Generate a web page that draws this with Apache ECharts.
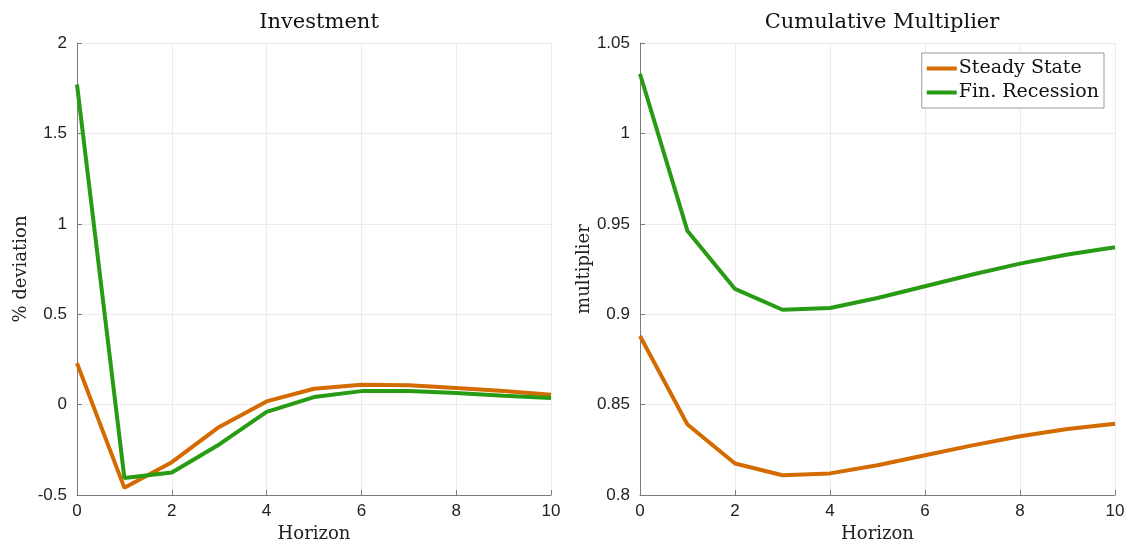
<!DOCTYPE html>
<html>
<head>
<meta charset="utf-8">
<script src="https://cdn.jsdelivr.net/npm/echarts@6/dist/echarts.min.js"></script>
<style>
  html, body { margin: 0; padding: 0; background: #fff; }
  #chart { width: 1128px; height: 548px; }
</style>
</head>
<body>
<div id="chart"></div>
<script>
// 横轴（期数）
const horizon = [0, 1, 2, 3, 4, 5, 6, 7, 8, 9, 10];

// 左图：投资（% 偏离）
const invSteady = [0.23, -0.46, -0.318, -0.123, 0.018, 0.088, 0.11, 0.107, 0.092, 0.075, 0.055];
const invRecession = [1.77, -0.405, -0.375, -0.22, -0.04, 0.042, 0.075, 0.075, 0.065, 0.05, 0.037];

// 右图：累积乘数
const mulSteady = [0.888, 0.839, 0.8175, 0.811, 0.812, 0.8165, 0.822, 0.8275, 0.8325, 0.8365, 0.8395];
const mulRecession = [1.033, 0.946, 0.914, 0.9025, 0.9035, 0.909, 0.9155, 0.922, 0.928, 0.933, 0.937];

const ORANGE = "#d36b00";
const GREEN = "#289b14";
const AXIS = "#7a7a7a";
const GRID = "#ebebeb";
const SERIF = "'DejaVu Serif', 'Liberation Serif', serif";
const SANS = "'Liberation Sans', Arial, sans-serif";

const pairs = (ys) => horizon.map((x, i) => [x, ys[i]]);

const xAxisFor = (idx) => ({
  type: "value",
  gridIndex: idx,
  min: 0,
  max: 10,
  interval: 2,
  name: "Horizon",
  nameLocation: "middle",
  nameGap: 29,
  nameTextStyle: { fontFamily: SERIF, fontSize: 18, color: "#222" },
  axisLine: { show: true, onZero: false, lineStyle: { color: AXIS } },
  axisTick: { show: true, inside: true, length: 5, lineStyle: { color: AXIS } },
  axisLabel: { fontFamily: SANS, fontSize: 17, color: "#222", margin: 8 },
  splitLine: { show: true, lineStyle: { color: GRID } },
});

const yAxisFor = (idx, min, max, interval, name) => ({
  type: "value",
  gridIndex: idx,
  min,
  max,
  interval,
  name,
  nameLocation: "middle",
  nameGap: 47,
  nameRotate: 90,
  nameTextStyle: { fontFamily: SERIF, fontSize: 18, color: "#222" },
  axisLine: { show: true, onZero: false, lineStyle: { color: AXIS } },
  axisTick: { show: true, inside: true, length: 5, lineStyle: { color: AXIS } },
  axisLabel: {
    fontFamily: SANS, fontSize: 17, color: "#222", margin: 10,
    formatter: (v) => String(Number(v.toFixed(2))),
  },
  splitLine: { show: true, lineStyle: { color: GRID } },
});

const lineSeries = (name, data, color, axisIdx) => ({
  name,
  type: "line",
  xAxisIndex: axisIdx,
  yAxisIndex: axisIdx,
  data: pairs(data),
  symbol: "none",
  lineStyle: { color, width: 4 },
  itemStyle: { color },
  animation: false,
});

const titleStyle = { fontFamily: SERIF, fontSize: 21, fontWeight: "normal", color: "#111" };

const chart = echarts.init(document.getElementById("chart"), null, { renderer: "canvas" });
chart.setOption({
  backgroundColor: "#fff",
  animation: false,
  title: [
    { text: "Investment", left: 314, top: 7, textAlign: "center", textStyle: titleStyle },
    { text: "Cumulative Multiplier", left: 877, top: 7, textAlign: "center", textStyle: titleStyle },
  ],
  legend: {
    data: ["Steady State", "Fin. Recession"],
    orient: "vertical",
    right: 24,
    top: 53,
    itemWidth: 30,
    itemHeight: 4,
    itemGap: 5,
    padding: [6, 5, 6, 5],
    borderColor: "#999",
    borderWidth: 1,
    backgroundColor: "#fff",
    icon: "rect",
    textStyle: { fontFamily: SERIF, fontSize: 19, color: "#111", padding: [0, 0, 0, -3] },
  },
  grid: [
    { left: 77, top: 43, width: 474, height: 453, containLabel: false },
    { left: 640, top: 43, width: 475, height: 453, containLabel: false },
  ],
  xAxis: [xAxisFor(0), xAxisFor(1)],
  yAxis: [
    yAxisFor(0, -0.5, 2, 0.5, "% deviation"),
    yAxisFor(1, 0.8, 1.05, 0.05, "multiplier"),
  ],
  series: [
    lineSeries("Steady State", invSteady, ORANGE, 0),
    lineSeries("Fin. Recession", invRecession, GREEN, 0),
    lineSeries("Steady State", mulSteady, ORANGE, 1),
    lineSeries("Fin. Recession", mulRecession, GREEN, 1),
  ],
});
</script>
</body>
</html>
